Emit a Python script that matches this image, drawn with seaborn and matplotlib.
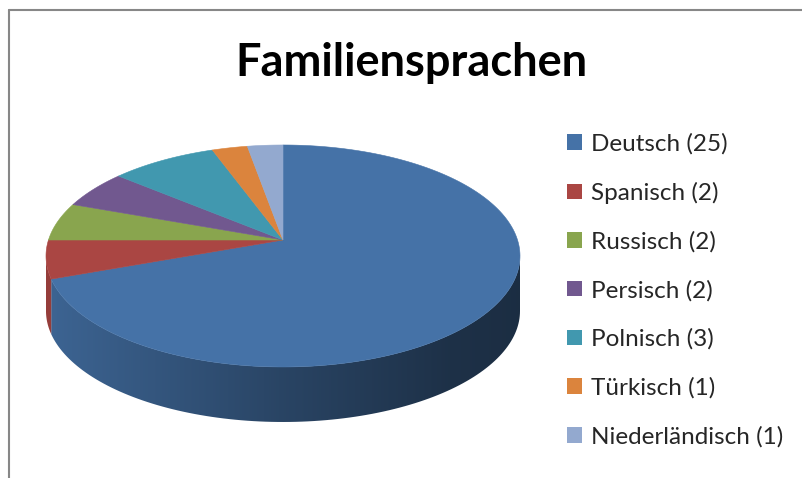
import numpy as np
import seaborn as sns
import matplotlib.pyplot as plt
from matplotlib.patches import Polygon, Patch
from matplotlib.lines import Line2D
from matplotlib.colors import to_rgb

languages = ['Deutsch', 'Spanisch', 'Russisch', 'Persisch', 'Polnisch', 'Türkisch', 'Niederländisch']
counts = [25, 2, 2, 2, 3, 1, 1]
colors = ['#4572A7', '#AA4643', '#89A54E', '#71588F', '#4198AF', '#DB843D', '#93A9CF']
labels = [f'{l} ({c})' for l, c in zip(languages, counts)]

sns.set_theme(style='white')
plt.rcParams['font.family'] = ['Lato', 'DejaVu Sans']

W, H = 803, 478
fig = plt.figure(figsize=(W / 100, H / 100), dpi=100)
ax = fig.add_axes([0, 0, 1, 1])
ax.set_xlim(0, W)
ax.set_ylim(H, 0)
ax.axis('off')

# perspective pie layout (pixels)
cx, apex_y = 283, 240
k = 0.144                     # perspective strength
S = 237 * np.sqrt(1 - k ** 2)
SB = 111 * (1 - k ** 2)
depth = 55


def proj(theta):
    t = np.radians(theta)
    X, Z = np.cos(t), -np.sin(t)
    w = 1 - k * Z
    return cx + S * X / w, apex_y + SB * Z / w


# slice angles: start at 12 o'clock, clockwise
fr = np.array(counts) / np.sum(counts) * 360
ends = 90 - np.cumsum(fr)
starts = ends + fr

# side (visible between the two silhouette points)
sil = np.degrees(np.arcsin(k))
vis0, vis1 = -180 + sil, -sil
for a_hi, a_lo, col in zip(starts, ends, colors):
    base = np.array(to_rgb(col))
    for s in (-360, 0, 360):
        a0 = max(a_lo + s, vis0)
        a1 = min(a_hi + s, vis1)
        if a1 - a0 < 0.3:
            continue
        x, y = proj(np.linspace(a0, a1, 120))
        pts = np.vstack([np.column_stack([x, y]), np.column_stack([x, y + depth])[::-1]])
        poly = Polygon(pts, closed=True, transform=ax.transData, facecolor='none', edgecolor='none')
        xs = np.linspace(40, 525, 300)
        fac = np.interp(xs, [46, 150, 283, 450, 520], [0.88, 0.76, 0.6, 0.43, 0.4])
        img = np.tile((base[None, :] * fac[:, None])[None, :, :], (10, 1, 1))
        im = ax.imshow(img, extent=(40, 525, 470, 200), aspect='auto', zorder=1,
                       interpolation='bilinear')
        im.set_clip_path(poly)

# top faces
for a_hi, a_lo, col in zip(starts, ends, colors):
    x, y = proj(np.linspace(a_lo, a_hi, 200))
    ax.fill(np.r_[cx, x], np.r_[apex_y, y], color=col, lw=0.4, ec=col, zorder=2)

ax.set_xlim(0, W)
ax.set_ylim(H, 0)

fig.text(411 / W, 1 - 63 / H, 'Familiensprachen', ha='center', va='center',
         fontsize=32.5, fontweight='bold', color='black')

handles = [Patch(facecolor=c, edgecolor='none') for c in colors]
ax.legend(handles, labels, loc='upper left', bbox_to_anchor=(567 / W, 1 - 133 / H),
          bbox_transform=fig.transFigure, frameon=False, fontsize=17.5,
          handlelength=0.6, handleheight=0.6, handletextpad=0.4,
          labelspacing=1.12, borderpad=0, borderaxespad=0)

# chart frame (left and top edges visible)
fig.add_artist(Line2D([9.5 / W, 9.5 / W], [0, 1 - 9.5 / H], color='#878787', lw=1.5,
                      transform=fig.transFigure))
fig.add_artist(Line2D([9.5 / W, 1], [1 - 9.5 / H, 1 - 9.5 / H], color='#878787', lw=1.5,
                      transform=fig.transFigure))

fig.savefig('out.png', dpi=100)
